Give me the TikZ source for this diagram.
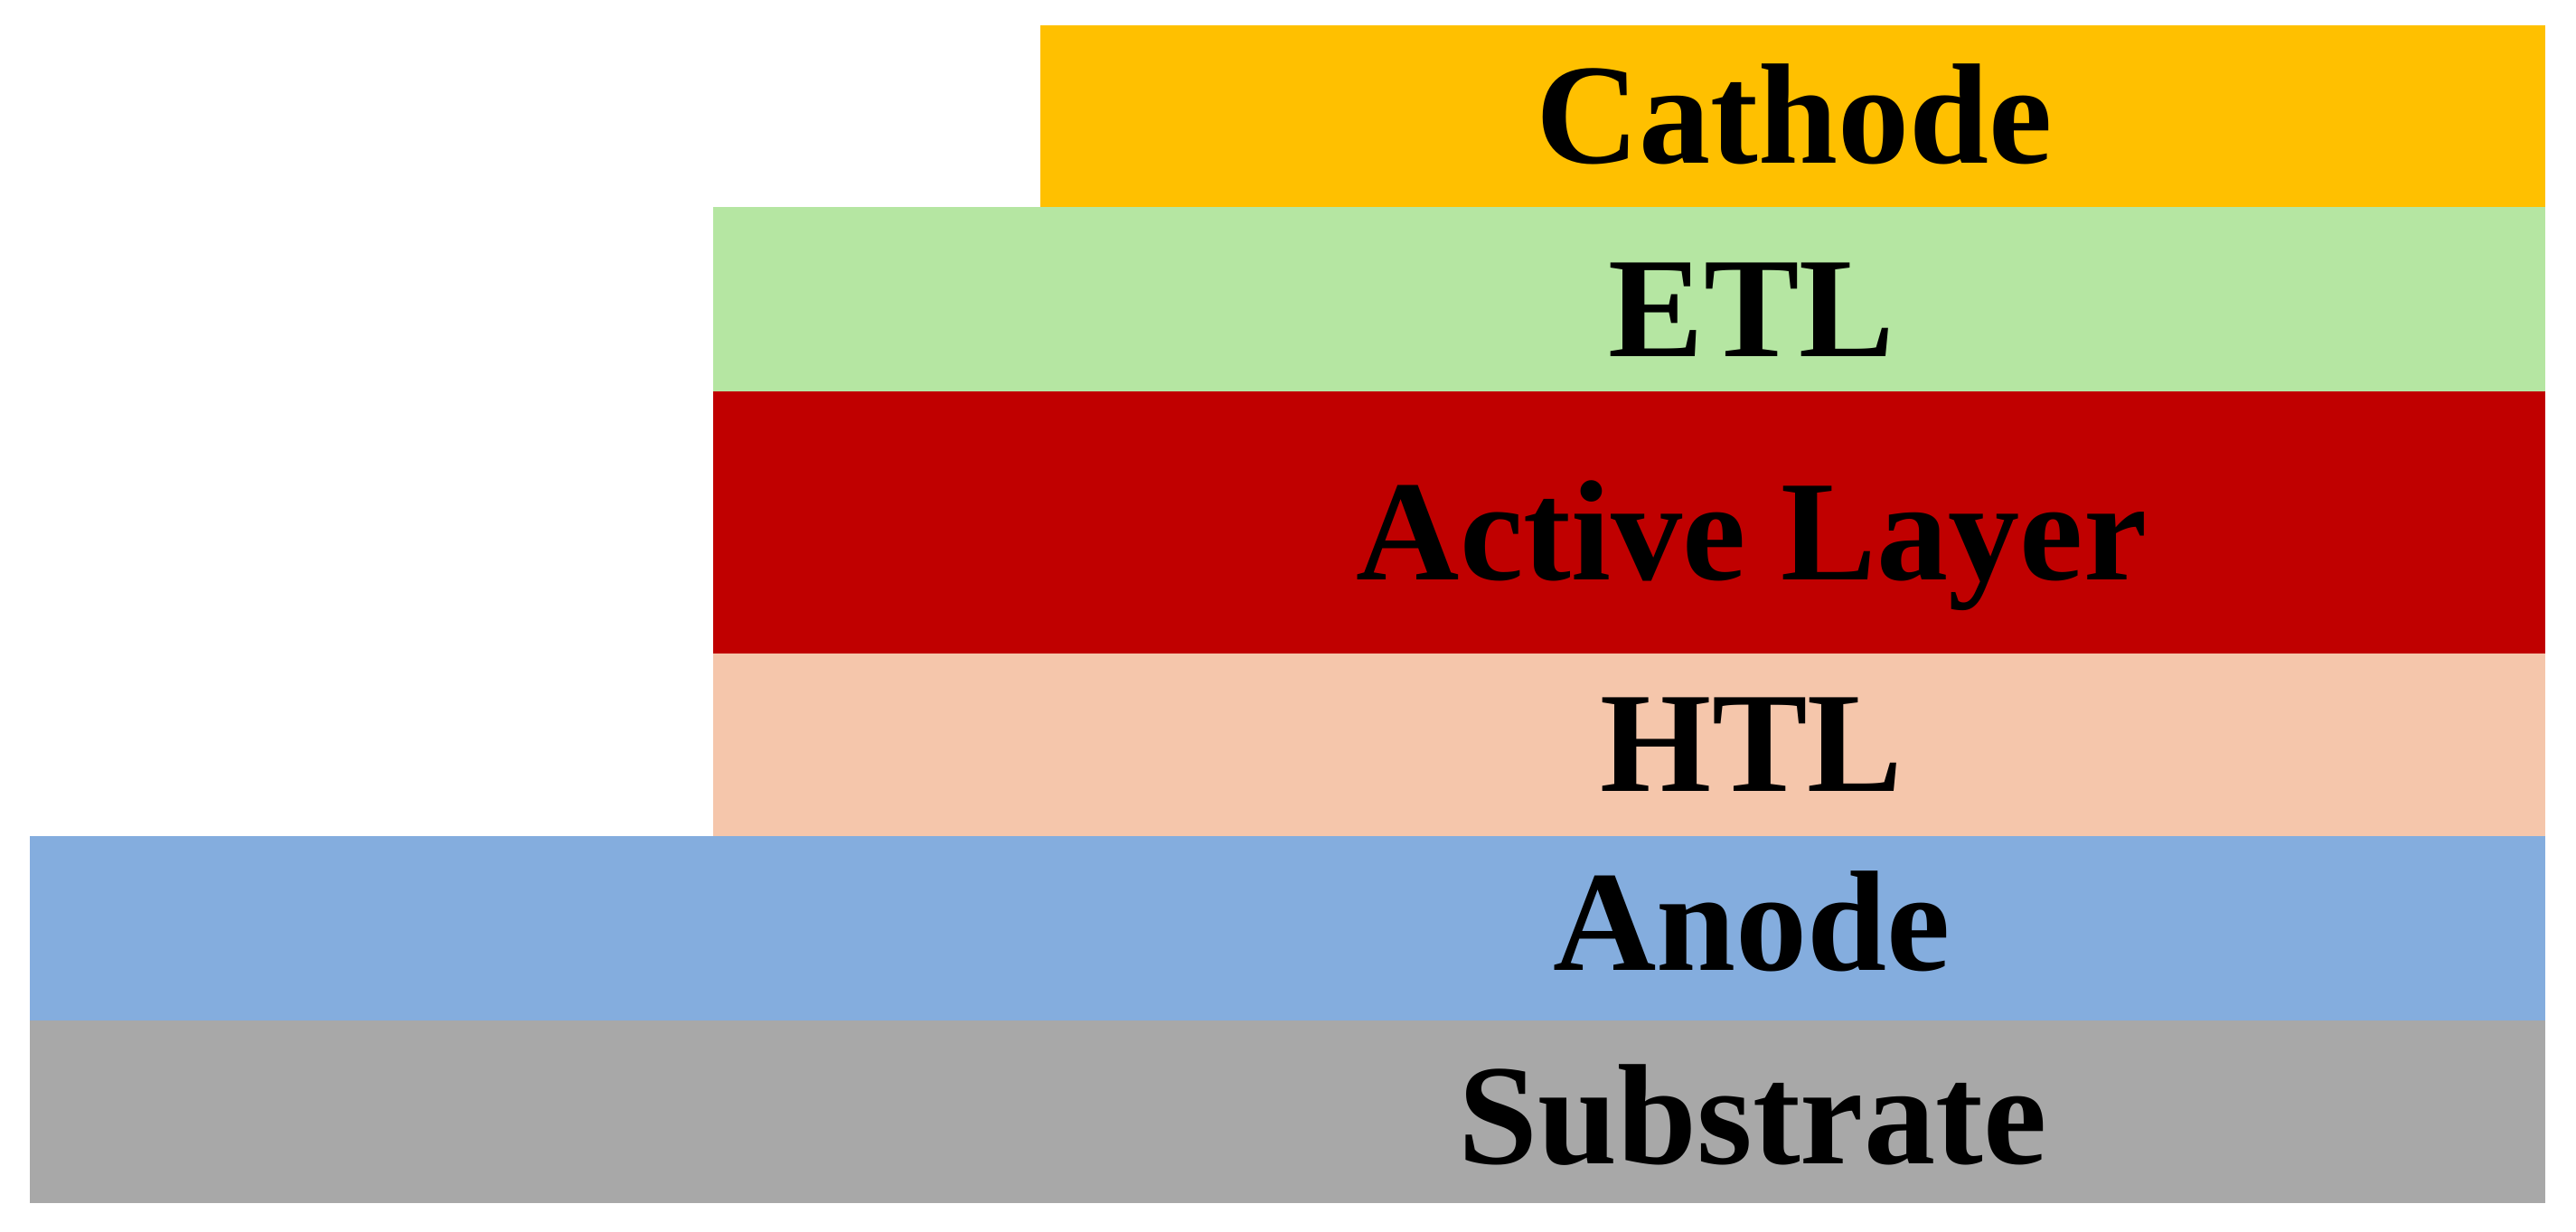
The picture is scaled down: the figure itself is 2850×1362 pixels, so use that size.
\documentclass[tikz,border=0pt]{standalone}
\usepackage{fontspec}
\setmainfont{Liberation Serif}
\definecolor{cathodec}{HTML}{FFC000}
\definecolor{etlc}{HTML}{B5E6A2}
\definecolor{activec}{HTML}{C00000}
\definecolor{htlc}{HTML}{F5C6AB}
\definecolor{anodec}{HTML}{84ADDE}
\definecolor{subc}{HTML}{A8A8A8}
\tikzset{
  lbl/.style={anchor=base, inner sep=0pt, font=\fontsize{45pt}{50pt}\selectfont\bfseries, text=black}
}
\begin{document}
\begin{tikzpicture}[x=0.01cm, y=-0.01cm]
\useasboundingbox (0,0) rectangle (2850,1362);
\fill[cathodec] (1151,28) rectangle (2816,229);
\fill[etlc] (789,229) rectangle (2816,433);
\fill[activec] (789,433) rectangle (2816,723);
\fill[htlc] (789,723) rectangle (2816,925);
\fill[anodec] (33,925) rectangle (2816,1129);
\fill[subc] (33,1129) rectangle (2816,1331);
\node[lbl] (cathode) at (1985,180) {Cathode};
\node[lbl] (etl) at (1938,394) {ETL};
\node[lbl] (active) at (1938,641) {Active Layer};
\node[lbl] (htl) at (1938,875) {HTL};
\node[lbl] (anode) at (1938,1073) {Anode};
\node[lbl] (substrate) at (1939,1287) {Substrate};
\end{tikzpicture}
\end{document}
